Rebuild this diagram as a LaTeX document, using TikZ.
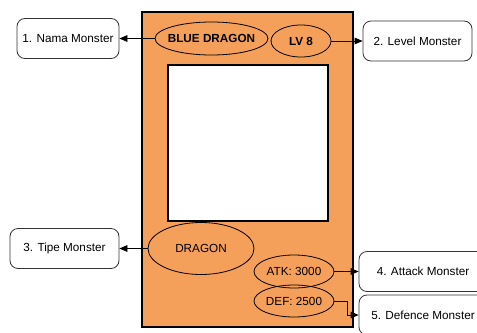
\documentclass[tikz,border=0pt]{standalone}
\usepackage{fontspec}
\setmainfont{Liberation Sans}
\usetikzlibrary{arrows.meta, shapes.geometric}

\definecolor{cardorange}{HTML}{F5A05A}

\begin{document}
\begin{tikzpicture}[
  x=0.75pt, y=-0.75pt,
  font=\fontsize{8.8}{10}\selectfont,
  field/.style={draw=black, ellipse, inner sep=0pt, line width=0.6pt},
  info/.style={draw=black!80, fill=white, rounded corners=6pt, inner sep=0pt,
    minimum height=30pt, line width=0.6pt},
  link/.style={-{Triangle[length=6pt, width=5pt]}, line width=0.6pt}
]
\useasboundingbox (0,0) rectangle (477,332);
\clip (0,0) rectangle (477,332);

% --- the card and its picture frame ---
\node[draw=black, fill=cardorange, line width=2.2pt, inner sep=0pt,
  minimum width=158.25pt, minimum height=236.25pt] (card) at (247.5,169.5) {};
\node[draw=black, fill=white, line width=0.8pt, inner sep=0pt,
  minimum width=120pt, minimum height=117pt] (pic) at (248,143) {};

% --- fields printed on the card ---
\node[field, inner xsep=-4pt, minimum width=84.75pt, minimum height=24.75pt] (name) at (211.5,38.5) {\textbf{BLUE DRAGON}};
\node[field, minimum width=45pt, minimum height=24pt] (level) at (301,41) {\textbf{LV 8}};
\node[field, minimum width=79.5pt, minimum height=39pt] (type) at (201,248.5) {DRAGON};
\node[field, minimum width=60pt, minimum height=24.75pt] (atk) at (294,271.5) {ATK: 3000};
\node[field, minimum width=60pt, minimum height=24pt] (def) at (294,301) {DEF: 2500};

% --- captions around the card ---
\node[info, minimum width=76.5pt] (n1) at (68,38.5) {1. Nama Monster};
\node[info, minimum width=81.75pt] (n2) at (417.5,41) {2. Level Monster};
\node[info, minimum width=81.75pt] (n3) at (64.5,248.5) {3. Tipe Monster};
\node[info, minimum width=96pt] (n4) at (423,271.5) {4. Attack Monster};
\node[info, minimum width=96pt] (n5) at (423,315) {5. Defence Monster};

% field -> caption
\draw[link] (name.west) -- (n1.east);
\draw[link] (level.east) -- (n2.west);
\draw[link] (type.west) -- (n3.east);
\draw[link] (atk.east) -- (n4.west);
\draw[link] (def.east) -- ++(13,0) |- (n5.west);

\end{tikzpicture}
\end{document}
